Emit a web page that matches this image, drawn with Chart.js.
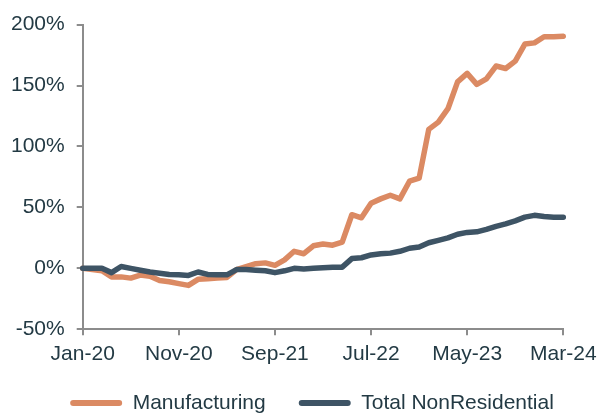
<!DOCTYPE html>
<html>
<head>
<meta charset="utf-8">
<script src="https://cdn.jsdelivr.net/npm/chart.js@4"></script>
<style>
  html, body { margin: 0; padding: 0; background: #ffffff; }
  #wrap { width: 609px; height: 415px; position: relative; }
</style>
</head>
<body>
<div id="wrap"><canvas id="c"></canvas></div>
<script>
const months = [
  'Jan-20','Feb-20','Mar-20','Apr-20','May-20','Jun-20','Jul-20','Aug-20','Sep-20','Oct-20',
  'Nov-20','Dec-20','Jan-21','Feb-21','Mar-21','Apr-21','May-21','Jun-21','Jul-21','Aug-21',
  'Sep-21','Oct-21','Nov-21','Dec-21','Jan-22','Feb-22','Mar-22','Apr-22','May-22','Jun-22',
  'Jul-22','Aug-22','Sep-22','Oct-22','Nov-22','Dec-22','Jan-23','Feb-23','Mar-23','Apr-23',
  'May-23','Jun-23','Jul-23','Aug-23','Sep-23','Oct-23','Nov-23','Dec-23','Jan-24','Feb-24',
  'Mar-24'
];
const manufacturing = [
  0, -1, -2, -7, -7, -8, -5.5, -6.5, -10, -11,
  -12.5, -14, -9, -8.5, -8, -7.5, -1, 1.5, 3.8, 4.5,
  2.5, 7, 14, 12, 18.5, 20, 19, 21.5, 44, 41.5,
  53.5, 57, 60, 57, 71.5, 74, 114, 120, 131, 153,
  160, 151, 155.5, 166, 164, 170, 184, 185, 190, 190,
  190.5
];
const totalNonResidential = [
  0, 0, 0, -3.5, 1.5, 0, -1.5, -3, -4, -5,
  -5.3, -5.8, -3, -5, -5.3, -5.3, -1, -1, -1.5, -2,
  -3.5, -2, 0, -0.5, 0, 0.5, 1, 1, 8, 8.7,
  11, 12, 12.5, 14, 16.5, 17.5, 21, 23, 25, 28,
  29.5, 30, 32, 34.5, 36.5, 39, 42, 43.5, 42.5, 42,
  42
];
const seriesNames = ['Manufacturing', 'Total NonResidential'];
const yTicks = [-50, 0, 50, 100, 150, 200];
const labelEvery = 10;

const textColor = '#233A44';
const axisColor = '#8C8C8C';
const orange = '#DB8A63';
const slate = '#3E5465';
const font = { family: '"Liberation Sans", Arial, sans-serif', size: 21 };

// place the legend where the reference has it
const legendPlacer = {
  id: 'legendPlacer',
  afterLayout(chart) {
    const lg = chart.legend;
    if (!lg) return;
    const w = lg.right - lg.left;
    const h = lg.bottom - lg.top;
    lg.left = 312 - w / 2; lg.right = lg.left + w;
    lg.top = 359.5; lg.bottom = lg.top + h;
  }
};

new Chart(document.getElementById('c'), {
  type: 'line',
  data: {
    labels: months,
    datasets: [
      { label: seriesNames[0], data: manufacturing, borderColor: orange, backgroundColor: orange,
        borderWidth: 5.5, pointRadius: 0, tension: 0, order: 2,
        borderJoinStyle: 'round', borderCapStyle: 'round' },
      { label: seriesNames[1], data: totalNonResidential, borderColor: slate, backgroundColor: slate,
        borderWidth: 5.5, pointRadius: 0, tension: 0, order: 1,
        borderJoinStyle: 'round', borderCapStyle: 'round' }
    ]
  },
  plugins: [legendPlacer],
  options: {
    responsive: true,
    maintainAspectRatio: false,
    animation: false,
    layout: { padding: { top: 21.3, right: 45.7, left: 0, bottom: -16.3 } },
    plugins: {
      tooltip: { enabled: false },
      legend: {
        position: 'bottom',
        labels: {
          font: font,
          color: textColor,
          boxWidth: 52,
          boxHeight: 6,
          padding: 33,
          useBorderRadius: true,
          borderRadius: 3,
          sort: (a, b) => a.datasetIndex - b.datasetIndex,
          generateLabels: (chart) => {
            const items = Chart.defaults.plugins.legend.labels.generateLabels(chart);
            items.forEach(it => { it.fillStyle = it.strokeStyle; it.lineWidth = 0; });
            return items;
          }
        }
      }
    },
    scales: {
      x: {
        type: 'category',
        offset: false,
        grid: {
          drawOnChartArea: false,
          drawTicks: true,
          tickLength: 6,
          lineWidth: 2,
          tickColor: (ctx) => (ctx.index % labelEvery === 0 ? axisColor : 'rgba(0,0,0,0)')
        },
        border: { display: true, color: axisColor, width: 2 },
        ticks: {
          autoSkip: false,
          maxRotation: 0,
          minRotation: 0,
          padding: 6.8,
          color: textColor,
          font: font,
          callback: (v, i) => (i % labelEvery === 0 ? months[i] : '')
        },
        afterFit: (s) => { s.height = 38; }
      },
      y: {
        min: yTicks[0],
        max: yTicks[yTicks.length - 1],
        grid: { drawOnChartArea: false, drawTicks: true, tickLength: 6, lineWidth: 2, tickColor: axisColor },
        border: { display: true, color: axisColor, width: 2 },
        afterBuildTicks: (s) => { s.ticks = yTicks.map(v => ({ value: v })); },
        ticks: {
          padding: 12,
          color: textColor,
          font: font,
          callback: (v) => v + '%'
        },
        afterFit: (s) => { s.width = 82.7; }
      }
    }
  }
});
</script>
</body>
</html>
